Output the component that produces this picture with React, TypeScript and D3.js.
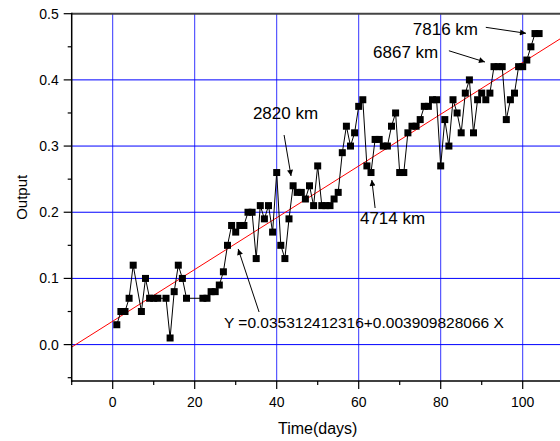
import React from "react";
import * as d3 from "d3";

const days = [1,2,3,4,5,7,8,9,10,11,13,14,15,16,17,18,22,23,24,25,26,27,28,29,30,31,32,33,34,35,36,37,38,39,40,41,42,43,44,45,46,47,48,49,50,51,52,53,54,55,56,57,58,59,60,61,62,63,64,65,66,67,68,69,70,71,72,73,74,75,76,77,78,79,80,81,82,83,84,85,86,87,88,89,90,91,92,93,94,95,96,97,98,99,100,101,102,103,104];
const output = [0.03,0.05,0.05,0.07,0.12,0.05,0.10,0.07,0.07,0.07,0.07,0.01,0.08,0.12,0.10,0.07,0.07,0.07,0.08,0.08,0.09,0.11,0.15,0.18,0.17,0.18,0.18,0.20,0.20,0.13,0.21,0.19,0.21,0.17,0.26,0.15,0.13,0.19,0.24,0.23,0.23,0.22,0.24,0.21,0.27,0.21,0.21,0.21,0.22,0.23,0.29,0.33,0.30,0.32,0.36,0.37,0.27,0.26,0.31,0.31,0.30,0.30,0.33,0.35,0.26,0.26,0.32,0.33,0.33,0.34,0.36,0.36,0.37,0.37,0.27,0.34,0.30,0.37,0.35,0.32,0.38,0.40,0.32,0.37,0.38,0.37,0.38,0.42,0.42,0.42,0.34,0.37,0.38,0.42,0.42,0.43,0.45,0.47,0.47];

const xTicks = [0, 20, 40, 60, 80, 100];
const xMinorTicks = [-10, 10, 30, 50, 70, 90, 110];
const yTicks = [0.0, 0.1, 0.2, 0.3, 0.4, 0.5];
const yMinorTicks = [-0.05, 0.05, 0.15, 0.25, 0.35, 0.45];

const fitIntercept = 0.035312412316;
const fitSlope = 0.003909828066;
const fitRange = [-10, 110];

// annotations: label, text start position (data), arrow from (data) to (data)
const annLabels = ["7816 km", "6867 km", "2820 km", "4714 km"];
const annTextX = [73.2, 63.5, 34.2, 60.3];
const annTextY = [0.477, 0.4426, 0.35, 0.191];
const annFrom = [[91.0, 0.4794], [82.0, 0.444], [41.8, 0.3167], [64.0, 0.2064]];
const annTo = [[100.8, 0.4704], [90.8, 0.427], [43.5, 0.2548], [63.2, 0.2487]];
const eqText = "Y =0.035312412316+0.003909828066 X";
const eqPos = [27.15, 0.0326];
const eqFrom = [35.7, 0.0493];
const eqTo = [30.6, 0.1445];

export default function App() {
  const W = 560, H = 441;
  const x = d3.scaleLinear().domain([-10, 110]).range([71.7, 563.7]);
  const y = d3.scaleLinear().domain([-0.055, 0.5]).range([381, 13.7]);
  const pts = days.map((d, i) => [d, output[i]] as [number, number]);
  const line = d3.line<[number, number]>().x(p => x(p[0])).y(p => y(p[1]));
  const font = "Arial, 'Liberation Sans', sans-serif";
  const x0 = x.range()[0], x1 = W + 5;
  const yTop = y(0.5), yBot = y(-0.055);
  const fitPts: [number, number][] = fitRange.map(v => [v, fitIntercept + fitSlope * v]);

  return (
    <svg width={W} height={H} style={{ position: "fixed", left: 0, top: 0, background: "#fff" }} fontFamily={font}>
      <defs>
        <marker id="ah" viewBox="0 0 10 10" refX="10" refY="5" markerWidth="9" markerHeight="6" orient="auto" markerUnits="userSpaceOnUse">
          <path d="M0,0 L10,5 L0,10 z" fill="#000" />
        </marker>
      </defs>
      <rect x={0} y={0} width={W} height={H} fill="#fff" />
      {/* grid */}
      {xTicks.map(t => (
        <line key={"gx" + t} x1={x(t)} x2={x(t)} y1={yTop} y2={yBot} stroke="#0000ff" strokeWidth={1} strokeOpacity={0.8} />
      ))}
      {yTicks.filter(t => t < 0.5).map(t => (
        <line key={"gy" + t} x1={x0} x2={x1} y1={y(t)} y2={y(t)} stroke="#0000ff" strokeWidth={1} />
      ))}
      {/* fit line */}
      <path d={line(fitPts) || ""} fill="none" stroke="#ff0000" strokeWidth={1} />
      {/* data */}
      <path d={line(pts) || ""} fill="none" stroke="#000" strokeWidth={1} />
      {pts.map((p, i) => (
        <rect key={"p" + i} x={x(p[0]) - 3.5} y={y(p[1]) - 3.5} width={7} height={7} fill="#000" />
      ))}
      {/* axes */}
      <line x1={x0} x2={x1} y1={yTop} y2={yTop} stroke="#444" strokeWidth={2} />
      <line x1={x0} x2={x0} y1={yTop - 1} y2={yBot + 1} stroke="#000" strokeWidth={1.5} />
      <line x1={x0} x2={x1} y1={yBot} y2={yBot} stroke="#000" strokeWidth={1.5} />
      {yTicks.map(t => (
        <g key={"yt" + t}>
          <line x1={x0 - 8} x2={x0} y1={y(t)} y2={y(t)} stroke="#000" strokeWidth={1.2} />
          <text x={x0 - 13} y={y(t)} dy="0.35em" textAnchor="end" fontSize={14} fill="#000">{d3.format(".1f")(t)}</text>
        </g>
      ))}
      {yMinorTicks.map(t => (
        <line key={"ym" + t} x1={x0 - 4} x2={x0} y1={y(t)} y2={y(t)} stroke="#000" strokeWidth={1.2} />
      ))}
      {xTicks.map(t => (
        <g key={"xt" + t}>
          <line x1={x(t)} x2={x(t)} y1={yBot} y2={yBot + 8} stroke="#000" strokeWidth={1.2} />
          <text x={x(t)} y={yBot + 21} dy="0.35em" textAnchor="middle" fontSize={14} fill="#000">{t}</text>
        </g>
      ))}
      {xMinorTicks.map(t => (
        <line key={"xm" + t} x1={x(t)} x2={x(t)} y1={yBot} y2={yBot + 4} stroke="#000" strokeWidth={1.2} />
      ))}
      <text x={x(50)} y={428} dy="0.35em" textAnchor="middle" fontSize={16} fill="#000">Time(days)</text>
      <text transform={`translate(22,${(yTop + yBot) / 2}) rotate(-90)`} textAnchor="middle" dy="0.35em" fontSize={15} fill="#000">Output</text>
      {/* annotations */}
      {annLabels.map((l, i) => (
        <g key={"a" + i}>
          <text x={x(annTextX[i])} y={y(annTextY[i])} dy="0.35em" textAnchor="start" fontSize={17} fill="#000">{l}</text>
          <line x1={x(annFrom[i][0])} y1={y(annFrom[i][1])} x2={x(annTo[i][0])} y2={y(annTo[i][1])} stroke="#000" strokeWidth={1} markerEnd="url(#ah)" />
        </g>
      ))}
      <text x={x(eqPos[0])} y={y(eqPos[1])} dy="0.35em" textAnchor="start" fontSize={15.5} fill="#000">{eqText}</text>
      <line x1={x(eqFrom[0])} y1={y(eqFrom[1])} x2={x(eqTo[0])} y2={y(eqTo[1])} stroke="#000" strokeWidth={1} markerEnd="url(#ah)" />
    </svg>
  );
}
